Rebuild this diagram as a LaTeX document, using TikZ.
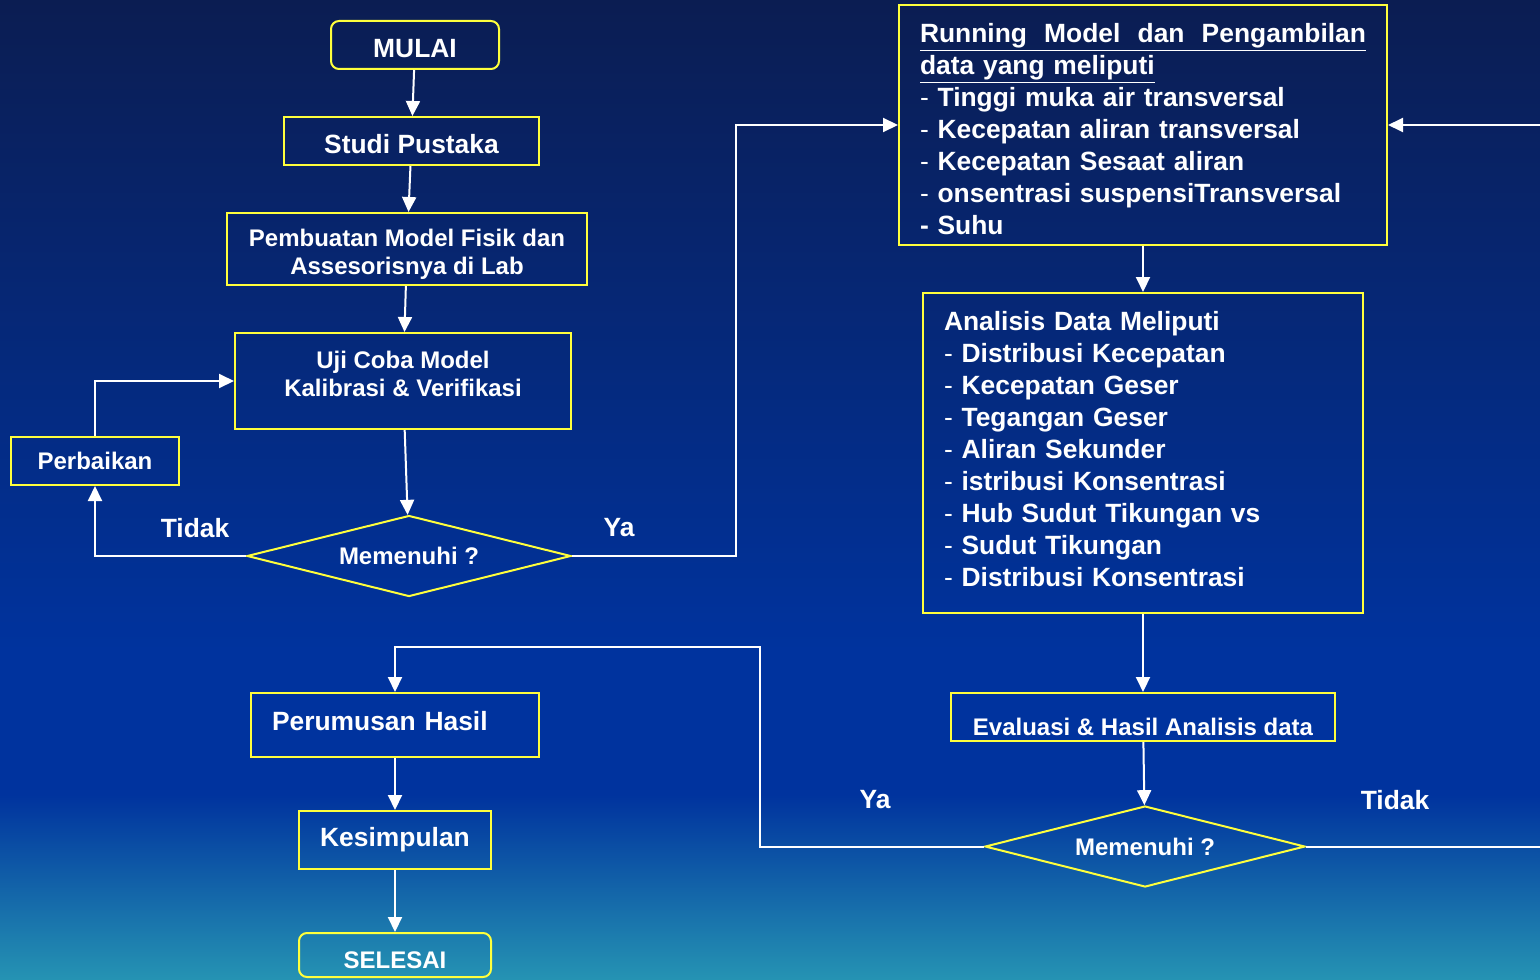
\documentclass[tikz,border=0pt]{standalone}
\usepackage{fontspec}
\setmainfont{Liberation Sans}
\usetikzlibrary{shapes.geometric}
\usetikzlibrary{arrows.meta}
\definecolor{bgtop}{RGB}{11,29,82}
\definecolor{bgmid}{RGB}{0,51,158}
\definecolor{bgbot}{RGB}{37,147,179}
\definecolor{kuning}{RGB}{255,255,60}
\tikzstyle{dasar}=[draw=kuning, line width=1pt, inner sep=0pt, text=white]
\tikzstyle{kotak}=[dasar, font=\bfseries\fontsize{13.2}{16}\selectfont]
\tikzstyle{kotakkecil}=[dasar, font=\bfseries\fontsize{12}{14}\selectfont]
\tikzstyle{terminal}=[rounded corners=4pt]
\tikzstyle{keputusan}=[kotakkecil, diamond, aspect=4]
\tikzstyle{daftar}=[kotak, align=left, inner xsep=10.5pt]
\tikzstyle{jawab}=[text=white, font=\bfseries\fontsize{13.2}{16}\selectfont]
\tikzstyle{garis}=[white, line width=1pt]
\tikzstyle{panah}=[garis, -{Triangle[length=7.5pt, width=7pt]}]
\newcommand{\strip}{{\mdseries -}}

\begin{document}
\begin{tikzpicture}[x=0.5pt, y=-0.5pt]
        % latar belakang
        \fill[top color=bgtop, bottom color=bgmid] (0,0) rectangle (1540,651);
        \fill[bgmid] (0,650) rectangle (1540,796);
        \fill[top color=bgmid, bottom color=bgbot] (0,795) rectangle (1540,979);
        \useasboundingbox (0,0) rectangle (1540,979);
        % kolom kiri
        \node[kotak, terminal, minimum width=84pt, minimum height=24pt, text height=13pt, text depth=0pt] (mulai) at (415,45) {MULAI};
        \node[kotak, minimum width=127.5pt, minimum height=24pt, text height=13pt, text depth=0pt] (studi) at (411.5,141) {Studi Pustaka};
        \node[kotakkecil, align=center, minimum width=180pt, minimum height=36pt] (model) at (407,249) {\rule{0pt}{14pt}Pembuatan Model Fisik dan\\Assesorisnya di Lab};
        \node[kotakkecil, align=center, minimum width=168pt, minimum height=48pt] (uji) at (403,381) {Uji Coba Model\\Kalibrasi \& Verifikasi\rule[-7pt]{0pt}{0pt}};
        \node[kotakkecil, minimum width=84pt, minimum height=24pt] (perbaikan) at (95,461) {Perbaikan};
        \node[keputusan, minimum width=162pt, minimum height=40.5pt] (cek1) at (409,556) {Memenuhi ?};
        \node[jawab] (tidak1) at (195,528) {Tidak};
        \node[jawab] (ya1) at (619,528) {Ya};
        % kolom kanan
        \node[daftar, text width=223pt, minimum height=120pt] (running) at (1143,125) {%
            \rule{0pt}{13.5pt}\underline{\makebox[223pt][s]{Running\hfill Model\hfill dan\hfill Pengambilan}}\\
            \underline{data yang meliputi}\\
            \strip\ Tinggi muka air transversal\\
            \strip\ Kecepatan aliran transversal\\
            \strip\ Kecepatan Sesaat aliran\\
            \strip\ onsentrasi suspensiTransversal\\
            - Suhu};
        \node[daftar, text width=199pt, minimum height=160pt] (analisis) at (1143,453) {%
            Analisis Data Meliputi\\
            \strip\ Distribusi Kecepatan\\
            \strip\ Kecepatan Geser\\
            \strip\ Tegangan Geser\\
            \strip\ Aliran Sekunder\\
            \strip\ istribusi Konsentrasi\\
            \strip\ Hub Sudut Tikungan vs\\
            \strip\ Sudut Tikungan\\
            \strip\ Distribusi Konsentrasi\rule[-4pt]{0pt}{0pt}};
        \node[kotakkecil, minimum width=192pt, minimum height=24pt, text height=18.6pt, text depth=0pt] (evaluasi) at (1143,717) {Evaluasi \& Hasil Analisis data};
        \node[keputusan, minimum width=160pt, minimum height=40.5pt] (cek2) at (1145,846.5) {Memenuhi ?};
        \node[jawab] (ya2) at (875,800) {Ya};
        \node[jawab] (tidak2) at (1395,800) {Tidak};
        % kolom bawah
        \node[kotak, align=left, text width=123pt, inner xsep=10.5pt, minimum height=32pt, text height=9.5pt, text depth=4pt] (perumusan) at (395,725) {Perumusan Hasil};
        \node[kotak, minimum width=96pt, minimum height=29pt] (kesimpulan) at (395,840) {Kesimpulan};
        \node[kotakkecil, terminal, minimum width=96pt, minimum height=22pt, text height=13pt, text depth=0pt] (selesai) at (395,955) {SELESAI};
        \coordinate (keluar) at (1540,846.5);
        \coordinate (masuk) at (1540,125);
        % panah
        \draw[panah] (mulai) -- (studi);
        \draw[panah] (studi) -- (model);
        \draw[panah] (model) -- (uji);
        \draw[panah] (uji) -- (cek1);
        \draw[panah] (cek1.west) -| (perbaikan.south);
        \draw[panah] (perbaikan.north) |- (uji.west);
        \draw[panah] (cek1.east) -- ++(164,0) |- (running.west);
        \draw[panah] (running.south) -- (analisis.north);
        \draw[panah] (analisis.south) -- (evaluasi.north);
        \draw[panah] (evaluasi) -- (cek2);
        \draw[panah] (cek2.west) -- ++(-224,0) -- ++(0,-200) -| (perumusan.north);
        \draw[garis] (cek2.east) -- (keluar);
        \draw[panah] (masuk) -- (running.east);
        \draw[panah] (perumusan) -- (kesimpulan);
        \draw[panah] (kesimpulan) -- (selesai);
    \end{tikzpicture}
\end{document}
